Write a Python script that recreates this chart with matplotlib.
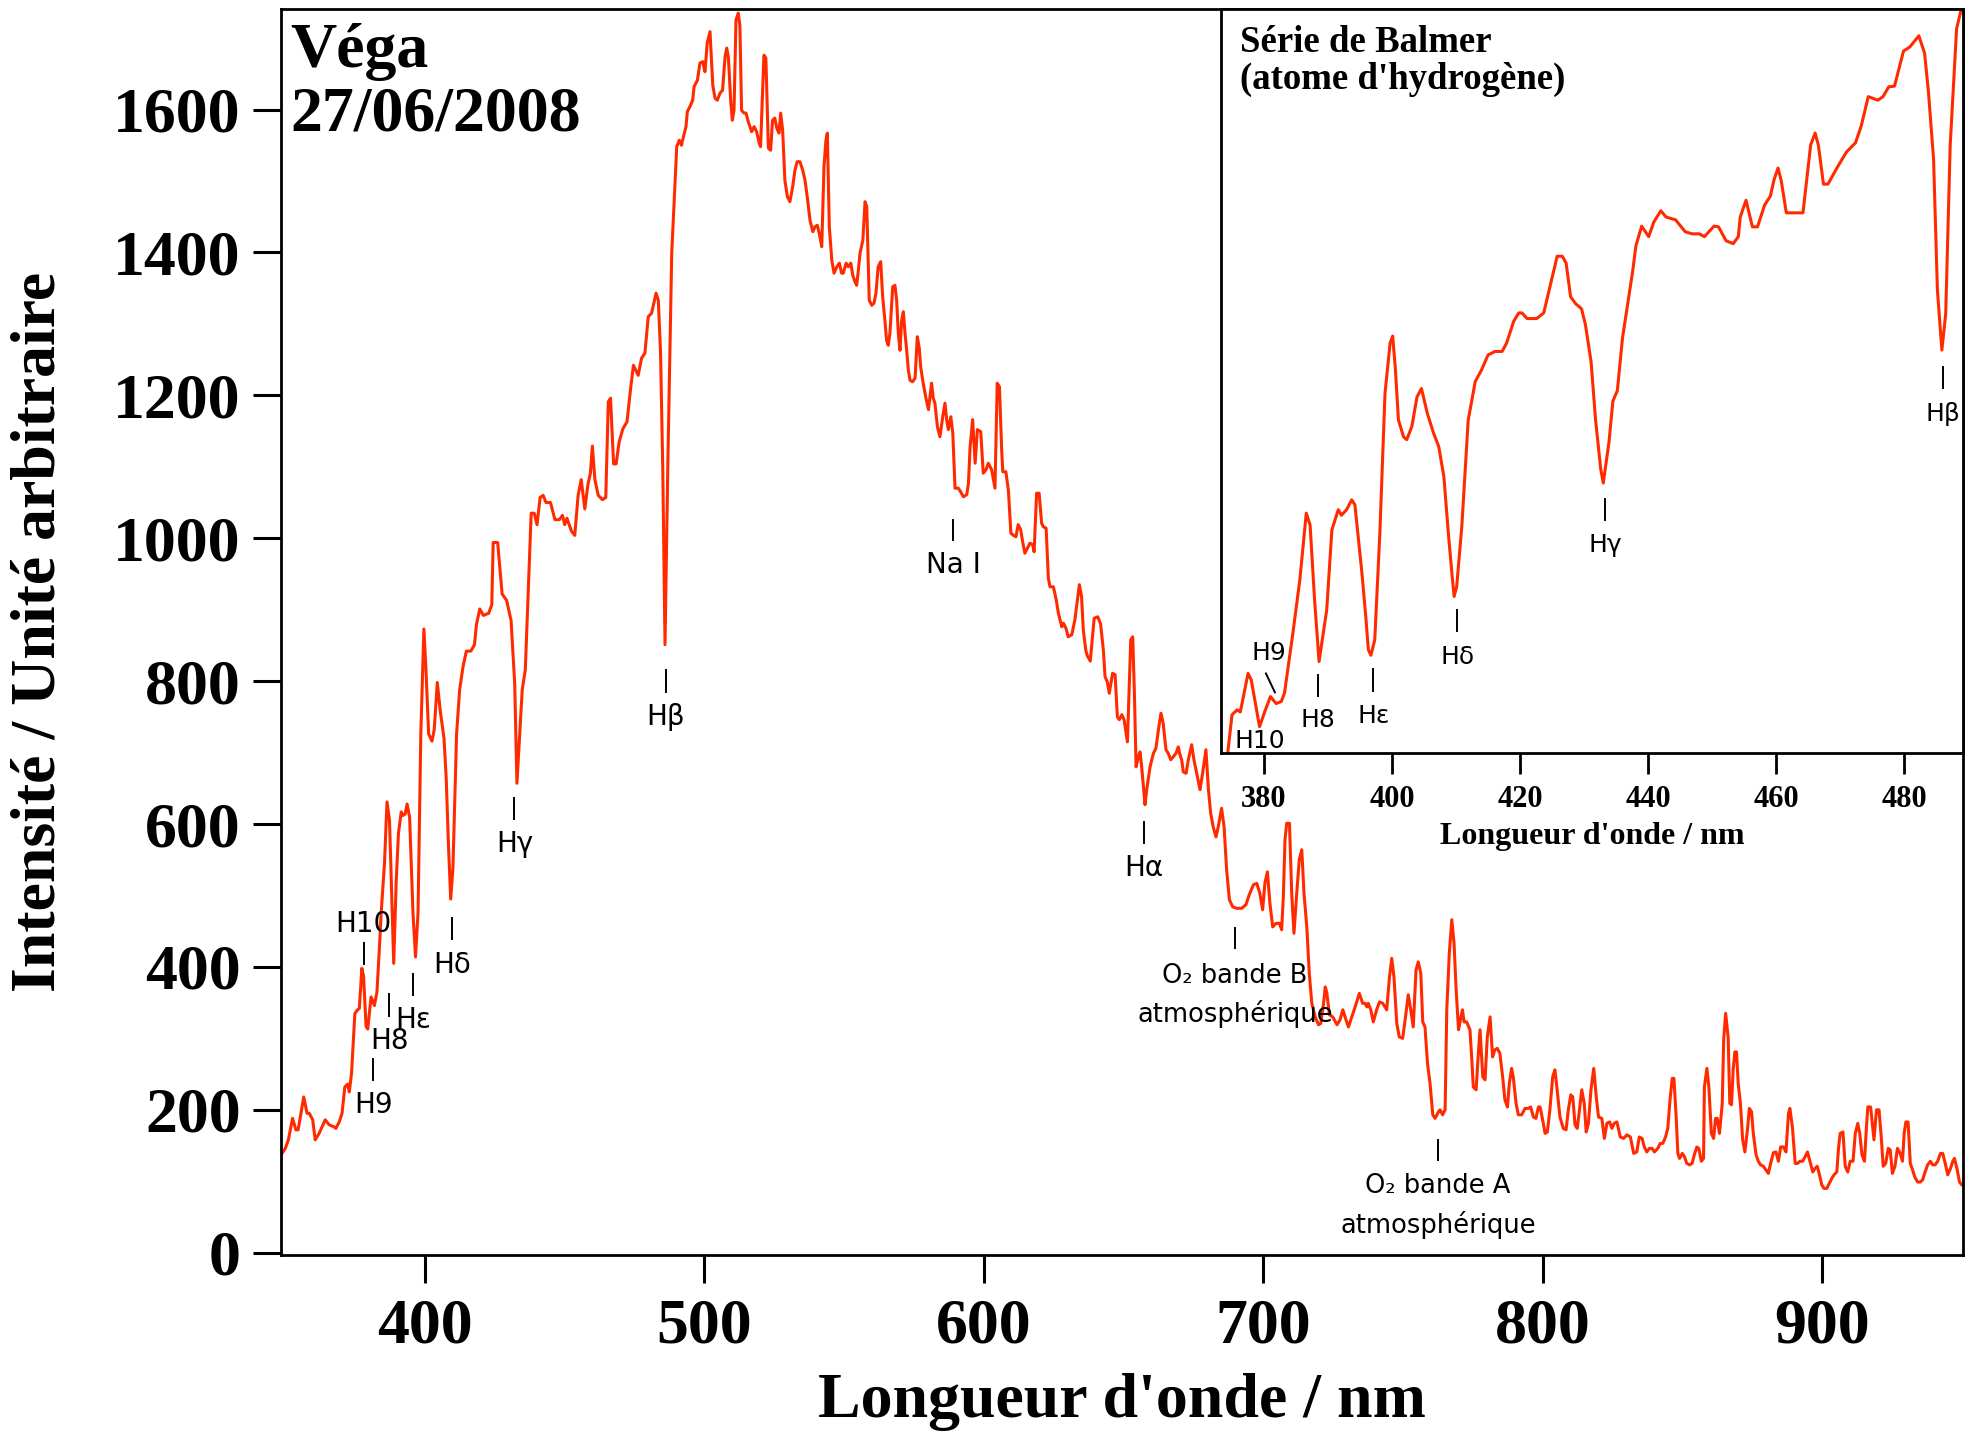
import matplotlib
matplotlib.use("Agg")
import matplotlib.pyplot as plt

# spectre de Vega (longueur d'onde en nm, intensite en unite arbitraire)
main_wl = [
    349.0, 349.9, 351.1, 352.6, 353.8, 354.6, 356.6, 357.8, 358.6, 359.8,
    360.7, 362.1, 364.3, 365.7, 367.5, 368.1, 369.3, 370.3, 371.3, 372.3,
    372.9, 373.7, 374.9, 375.9, 376.5, 377.4, 378.0, 378.9, 379.5, 380.7,
    381.9, 382.8, 383.7, 384.3, 385.5, 386.4, 387.3, 388.8, 389.7, 390.5,
    391.5, 392.1, 392.9, 393.6, 394.5, 395.7, 396.6, 397.5, 398.5, 399.6,
    400.3, 401.3, 402.5, 403.3, 404.4, 405.5, 406.8, 407.6, 408.4, 409.2,
    410.0, 411.3, 412.4, 413.6, 414.8, 416.4, 417.7, 418.4, 419.6, 420.9,
    422.8, 423.9, 424.4, 426.0, 427.6, 429.2, 430.8, 432.1, 432.9, 434.8,
    435.9, 438.0, 439.1, 440.1, 441.2, 442.3, 443.3, 444.9, 446.5, 448.1,
    449.2, 450.0, 450.8, 452.4, 453.6, 454.8, 455.9, 457.2, 458.3, 459.2,
    459.9, 460.8, 462.0, 463.5, 464.7, 465.6, 466.4, 467.5, 468.4, 469.5,
    470.8, 472.3, 473.6, 474.6, 476.3, 477.5, 478.7, 479.9, 481.1, 482.7,
    483.5, 484.3, 485.1, 485.9, 486.9, 488.3, 489.1, 490.1, 491.0, 491.8,
    492.5, 493.4, 493.9, 494.8, 495.8, 496.3, 497.5, 498.4, 499.4, 500.2,
    501.0, 502.0, 503.0, 503.8, 504.6, 505.6, 506.5, 507.4, 508.0, 508.6,
    509.4, 510.0, 510.6, 511.3, 512.1, 512.7, 513.3, 514.2, 514.9, 515.7,
    516.9, 517.8, 518.7, 519.6, 520.1, 520.7, 521.3, 522.0, 522.9, 523.7,
    524.4, 525.2, 525.9, 526.7, 527.3, 528.0, 528.8, 529.7, 530.6, 531.6,
    532.4, 533.2, 534.2, 535.2, 536.0, 536.8, 537.8, 538.8, 539.6, 540.4,
    541.1, 542.0, 542.8, 543.5, 544.0, 544.7, 545.6, 546.4, 547.4, 548.3,
    549.1, 549.7, 550.7, 551.5, 552.4, 553.1, 553.9, 554.5, 555.1, 555.7,
    556.7, 557.5, 558.1, 559.0, 559.9, 560.7, 561.4, 562.2, 563.1, 563.8,
    564.6, 565.2, 565.8, 566.4, 567.4, 568.2, 568.8, 569.4, 570.0, 570.6,
    571.2, 571.8, 572.4, 573.0, 573.6, 574.5, 575.4, 576.2, 576.9, 577.4,
    578.3, 579.3, 580.2, 581.3, 581.9, 582.5, 583.4, 584.3, 585.3, 586.1,
    586.7, 587.3, 588.2, 588.9, 589.7, 590.9, 591.7, 592.7, 593.9, 594.5,
    595.1, 596.0, 596.9, 597.7, 598.9, 599.8, 600.8, 601.6, 602.8, 604.0,
    604.8, 605.6, 606.4, 606.8, 607.9, 608.8, 609.7, 610.6, 611.5, 612.3,
    613.2, 613.9, 614.7, 615.6, 616.5, 617.5, 618.0, 618.9, 619.8, 620.7,
    621.3, 622.3, 623.1, 623.7, 624.9, 625.9, 626.7, 627.9, 628.5, 629.4,
    630.2, 631.5, 632.6, 633.5, 634.2, 635.0, 635.6, 636.5, 637.0, 638.1,
    639.5, 640.8, 641.8, 642.8, 643.4, 644.2, 644.9, 646.1, 647.0, 647.8,
    648.5, 649.4, 650.2, 651.4, 652.6, 653.3, 653.9, 654.5, 655.3, 655.9,
    656.5, 657.7, 658.3, 659.5, 660.7, 661.6, 662.5, 663.4, 664.2, 665.2,
    666.0, 666.9, 667.8, 668.8, 669.6, 670.2, 670.8, 671.4, 672.4, 673.2,
    674.4, 675.2, 676.2, 677.4, 678.3, 679.5, 680.4, 681.2, 682.1, 683.1,
    683.9, 685.1, 686.0, 686.9, 687.9, 689.1, 690.5, 692.3, 693.8, 695.0,
    696.5, 697.7, 698.8, 699.8, 700.6, 701.5, 702.4, 703.4, 704.6, 705.8,
    706.6, 707.2, 707.8, 708.4, 709.4, 710.2, 711.0, 712.0, 712.9, 713.8,
    714.6, 715.6, 716.5, 717.4, 718.6, 719.8, 720.6, 721.6, 722.2, 722.8,
    723.7, 724.9, 726.4, 727.5, 728.5, 729.3, 730.5, 731.7, 732.9, 734.4,
    735.6, 736.5, 737.1, 737.6, 738.5, 739.4, 740.6, 741.6, 742.8, 744.2,
    745.2, 746.0, 746.8, 747.8, 748.7, 749.9, 750.8, 751.9, 752.8, 753.7,
    754.7, 755.5, 756.4, 757.1, 757.9, 758.8, 759.7, 760.7, 761.5, 762.7,
    763.3, 764.2, 765.1, 765.7, 766.6, 767.5, 768.3, 769.0, 769.9, 770.7,
    771.3, 771.9, 772.8, 774.0, 774.6, 775.2, 776.2, 777.0, 777.6, 778.6,
    779.4, 780.2, 781.2, 782.1, 782.9, 783.8, 784.7, 785.7, 786.5, 787.4,
    788.1, 788.9, 789.5, 790.5, 791.3, 792.5, 793.7, 794.9, 795.7, 796.7,
    797.6, 798.5, 799.1, 800.0, 800.9, 801.7, 802.6, 803.6, 804.4, 805.2,
    806.2, 807.4, 808.4, 809.2, 810.1, 810.8, 811.6, 812.4, 813.2, 814.0,
    814.9, 815.6, 816.4, 817.3, 818.3, 819.2, 820.0, 821.2, 822.1, 823.0,
    824.0, 824.8, 825.6, 826.6, 827.8, 829.0, 830.2, 831.4, 832.6, 833.7,
    834.6, 835.6, 836.4, 837.3, 838.2, 839.2, 840.0, 841.2, 842.1, 843.0,
    844.0, 844.8, 845.6, 846.4, 847.0, 847.8, 848.4, 849.0, 850.0, 850.8,
    851.6, 852.6, 853.5, 854.3, 855.2, 855.9, 856.8, 857.6, 857.9, 858.8,
    859.5, 860.4, 861.2, 861.9, 862.5, 863.3, 864.3, 864.8, 865.5, 866.4,
    867.0, 867.6, 868.2, 868.8, 869.4, 870.0, 870.8, 871.6, 872.4, 873.3,
    874.0, 874.8, 875.4, 876.4, 877.2, 878.0, 879.0, 879.9, 880.8, 881.6,
    882.6, 883.5, 884.4, 885.2, 886.2, 887.1, 888.0, 888.5, 889.4, 890.4,
    891.2, 892.1, 893.1, 893.9, 894.8, 895.7, 896.7, 897.5, 898.3, 899.1,
    899.9, 900.7, 901.7, 902.6, 903.5, 904.3, 905.3, 905.9, 906.5, 907.5,
    908.3, 909.2, 910.1, 911.1, 911.9, 912.8, 913.5, 914.3, 915.2, 915.9,
    916.4, 917.4, 918.0, 918.6, 919.5, 920.4, 921.2, 921.9, 922.8, 923.7,
    924.4, 925.2, 926.1, 927.0, 928.0, 928.8, 929.4, 930.0, 930.8, 931.6,
    932.4, 933.2, 934.2, 935.2, 936.0, 936.9, 937.8, 938.8, 939.6, 940.5,
    941.4, 942.4, 943.2, 944.1, 945.0, 946.0, 946.8, 947.4, 948.4, 949.2,
    950.0, 951.0,
]
main_int = [
    140, 145, 158, 188, 172, 172, 218, 195, 195, 186,
    158, 167, 186, 179, 176, 174, 183, 195, 232, 236,
    225, 251, 335, 340, 342, 398, 387, 317, 313, 358,
    346, 365, 428, 475, 545, 631, 605, 405, 521, 587,
    617, 612, 614, 628, 609, 475, 414, 475, 726, 873,
    820, 726, 716, 732, 798, 757, 720, 663, 570, 495,
    539, 726, 788, 820, 842, 842, 851, 879, 901, 892,
    895, 907, 994, 994, 922, 913, 885, 797, 657, 788,
    816, 1035, 1035, 1019, 1057, 1060, 1050, 1050, 1026, 1026,
    1032, 1019, 1028, 1010, 1004, 1060, 1082, 1041, 1075, 1091,
    1129, 1082, 1060, 1054, 1057, 1191, 1196, 1104, 1104, 1135,
    1153, 1163, 1210, 1242, 1228, 1252, 1259, 1310, 1315, 1343,
    1333, 1260, 1097, 851, 1100, 1399, 1464, 1548, 1557, 1550,
    1562, 1576, 1597, 1604, 1613, 1632, 1641, 1665, 1667, 1653,
    1693, 1709, 1634, 1616, 1613, 1623, 1627, 1674, 1686, 1672,
    1613, 1585, 1599, 1725, 1735, 1718, 1599, 1595, 1595, 1583,
    1569, 1576, 1569, 1553, 1548, 1613, 1676, 1672, 1546, 1543,
    1585, 1588, 1574, 1567, 1595, 1571, 1501, 1478, 1471, 1492,
    1515, 1527, 1527, 1515, 1501, 1478, 1445, 1429, 1436, 1438,
    1427, 1408, 1520, 1557, 1567, 1436, 1389, 1371, 1380, 1385,
    1371, 1371, 1385, 1380, 1385, 1368, 1359, 1354, 1375, 1399,
    1417, 1471, 1464, 1333, 1326, 1329, 1343, 1380, 1387, 1338,
    1305, 1277, 1270, 1287, 1352, 1354, 1333, 1287, 1263, 1305,
    1317, 1287, 1263, 1235, 1221, 1219, 1224, 1282, 1266, 1240,
    1217, 1196, 1180, 1217, 1196, 1189, 1156, 1142, 1170, 1189,
    1166, 1152, 1170, 1147, 1070, 1070, 1065, 1058, 1061, 1077,
    1128, 1166, 1105, 1152, 1149, 1091, 1096, 1105, 1096, 1070,
    1217, 1212, 1123, 1093, 1093, 1067, 1007, 1004, 1002, 1019,
    1012, 995, 979, 986, 993, 991, 981, 1063, 1063, 1021,
    1016, 1014, 944, 932, 932, 914, 895, 876, 881, 874,
    862, 865, 886, 914, 935, 918, 872, 843, 836, 828,
    888, 890, 880, 843, 806, 799, 783, 811, 809, 750,
    746, 753, 746, 715, 858, 862, 783, 680, 694, 701,
    680, 627, 648, 680, 699, 706, 732, 755, 741, 704,
    699, 690, 694, 699, 708, 697, 690, 673, 671, 690,
    711, 690, 671, 648, 671, 704, 648, 615, 596, 582,
    596, 622, 596, 536, 494, 484, 482, 482, 487, 501,
    515, 517, 503, 480, 517, 533, 489, 456, 461, 461,
    452, 498, 578, 601, 601, 503, 447, 503, 550, 564,
    503, 456, 390, 349, 330, 319, 321, 349, 372, 363,
    333, 330, 319, 326, 340, 330, 316, 330, 344, 363,
    349, 349, 344, 349, 340, 323, 340, 351, 349, 340,
    386, 412, 386, 321, 302, 300, 326, 361, 340, 316,
    396, 407, 391, 323, 316, 265, 237, 193, 188, 197,
    200, 193, 200, 340, 419, 466, 433, 372, 312, 328,
    340, 323, 323, 312, 274, 232, 228, 279, 312, 246,
    242, 302, 330, 274, 284, 286, 279, 246, 214, 204,
    237, 258, 246, 209, 193, 193, 202, 202, 204, 190,
    188, 204, 204, 186, 167, 169, 200, 246, 256, 228,
    190, 174, 172, 200, 221, 218, 179, 174, 200, 228,
    209, 169, 181, 228, 258, 218, 190, 188, 160, 181,
    183, 174, 181, 183, 162, 160, 165, 162, 139, 141,
    162, 160, 148, 141, 146, 146, 141, 146, 153, 153,
    162, 174, 214, 244, 244, 190, 139, 132, 139, 134,
    125, 123, 125, 137, 148, 146, 128, 132, 232, 258,
    232, 167, 160, 188, 188, 167, 209, 298, 335, 302,
    209, 207, 256, 281, 281, 237, 209, 158, 141, 172,
    202, 197, 167, 137, 128, 123, 121, 116, 111, 125,
    140, 141, 128, 148, 148, 141, 195, 202, 176, 125,
    125, 128, 128, 134, 141, 128, 113, 118, 121, 109,
    95, 90, 90, 97, 104, 109, 113, 146, 167, 169,
    121, 113, 128, 128, 167, 181, 167, 137, 128, 176,
    204, 204, 181, 158, 200, 200, 162, 121, 125, 146,
    144, 111, 121, 146, 139, 128, 167, 183, 183, 125,
    116, 106, 99, 99, 102, 113, 123, 128, 123, 123,
    128, 139, 139, 125, 109, 118, 128, 132, 116, 99,
    95, 95,
]

# encart : serie de Balmer
balmer_wl = [
    374.0, 375.0, 375.8, 376.3, 377.5, 378.0, 379.3, 380.1, 381.0, 381.9,
    382.7, 383.2, 384.5, 385.6, 386.6, 387.2, 387.9, 388.6, 389.8, 390.6,
    391.6, 392.1, 392.9, 393.7, 394.2, 395.3, 395.9, 396.3, 396.7, 397.3,
    398.1, 398.9, 399.7, 400.1, 400.5, 401.0, 401.8, 402.3, 403.1, 403.9,
    404.6, 405.5, 406.5, 407.3, 408.1, 408.8, 409.4, 409.7, 410.1, 410.9,
    411.9, 413.0, 414.0, 415.0, 416.1, 417.2, 417.9, 419.0, 419.8, 420.3,
    421.1, 422.6, 423.7, 424.3, 425.8, 426.6, 427.2, 427.9, 428.7, 429.6,
    430.2, 431.1, 431.8, 432.6, 433.0, 433.9, 434.5, 435.2, 436.0, 436.7,
    437.6, 438.1, 439.0, 440.1, 440.9, 442.0, 442.8, 444.3, 445.8, 446.9,
    448.0, 448.8, 450.3, 451.0, 452.2, 453.3, 454.1, 454.4, 455.3, 456.3,
    457.1, 458.2, 459.1, 459.7, 460.3, 460.8, 461.6, 463.1, 464.2, 465.4,
    466.1, 466.6, 467.4, 468.1, 469.5, 471.0, 472.4, 473.3, 474.4, 475.9,
    476.7, 477.6, 478.5, 479.9, 480.9, 482.3, 483.2, 483.8, 484.6, 485.2,
    485.9, 486.5, 487.2, 488.2, 488.9, 489.6,
]
balmer_int = [
    250, 332, 339, 336, 391, 382, 315, 336, 358, 348,
    351, 363, 448, 525, 620, 603, 496, 408, 482, 596,
    625, 617, 625, 639, 632, 534, 472, 425, 417, 439,
    592, 791, 863, 873, 829, 753, 729, 725, 744, 786,
    798, 763, 734, 715, 672, 591, 529, 501, 515, 601,
    753, 808, 825, 846, 851, 851, 863, 894, 906, 906,
    898, 898, 906, 929, 987, 987, 977, 929, 919, 912,
    890, 836, 753, 683, 663, 722, 780, 795, 870, 912,
    966, 1002, 1030, 1015, 1036, 1052, 1043, 1039, 1022, 1019,
    1019, 1015, 1030, 1029, 1009, 1005, 1015, 1043, 1067, 1029,
    1029, 1060, 1073, 1097, 1113, 1095, 1049, 1049, 1049, 1146,
    1163, 1146, 1090, 1090, 1113, 1136, 1149, 1173, 1215, 1210,
    1215, 1229, 1230, 1280, 1286, 1302, 1277, 1222, 1126, 939,
    853, 905, 1146, 1312, 1339, 1400,
]

# reperes des raies : texte, lambda, bas du trait, haut du trait, ligne de base du texte
main_marks = [
    ("H10", 378.1, 404, 434, 449),
    ("H9", 381.5, 242, 271, 195),
    ("H8", 387.2, 331, 362, 285),
    ("Hε", 395.8, 361, 390, 314),
    ("Hδ", 409.6, 439, 468, 392),
    ("Hγ", 432.0, 607, 636, 561),
    ("Hβ", 486.1, 785, 815, 739),
    ("Na I", 589.1, 997, 1026, 951),
    ("Hα", 657.3, 574, 603, 527),
]
o2_marks = [
    ("O₂ bande B", "atmosphérique", 689.9, 426, 454, 378, 323),
    ("O₂ bande A", "atmosphérique", 762.5, 130, 158, 83, 28),
]
balmer_marks = [
    ("Hγ", 433.3, 610, 640, 565),
    ("Hδ", 410.2, 451, 481, 405),
    ("Hε", 397.1, 366, 397, 320),
    ("H8", 388.4, 359, 389, 314),
    ("Hβ", 486.1, 799, 829, 751),
]

RED = "#ff2a00"
plt.rcParams["font.family"] = "Liberation Serif"
plt.rcParams["font.weight"] = "bold"
plt.rcParams["axes.labelweight"] = "bold"
plt.rcParams["axes.linewidth"] = 2.0

W, H = 1966, 1433
fig = plt.figure(figsize=(W / 100, H / 100), dpi=100)
ax = fig.add_axes([281 / W, 1 - 1255 / H, (1963 - 281) / W, (1255 - 9) / H])
ax.plot(main_wl, main_int, color=RED, lw=2.2)
ax.set_xlim(348.46, 950.46)
ax.set_ylim(-3.2, 1740.7)
ax.set_xticks(range(400, 901, 100))
ax.set_yticks(range(0, 1601, 200))
ax.tick_params(direction="out", length=20, width=2.2, labelsize=46)
ax.tick_params(axis="x", pad=11)
ax.tick_params(axis="y", pad=9)

fig.text(1122 / W, 1 - 1417 / H, "Longueur d'onde / nm", ha="center",
         va="baseline", fontsize=46)
fig.text(40 / W, 1 - 632 / H, "Intensité / Unité arbitraire", rotation=90,
         ha="center", va="center", fontsize=46)
ax.text(0.0054, 0.9535, "Véga", transform=ax.transAxes, fontsize=46,
        va="baseline")
ax.text(0.0054, 0.9021, "27/06/2008", transform=ax.transAxes, fontsize=46,
        va="baseline")

sans = dict(family="DejaVu Sans", weight="normal", ha="center", va="baseline")
for txt, wl, lo, hi, base in main_marks:
    ax.plot([wl, wl], [lo, hi], color="black", lw=1.4)
    ax.text(wl, base, txt, fontsize=20, **sans)
for l1, l2, wl, lo, hi, b1, b2 in o2_marks:
    ax.plot([wl, wl], [lo, hi], color="black", lw=1.4)
    ax.text(wl, b1, l1, fontsize=18.5, **sans)
    ax.text(wl, b2, l2, fontsize=18.5, **sans)

# encart
axin = fig.add_axes([1221 / W, 1 - 752.7 / H, (1963 - 1221) / W, (752.7 - 9) / H])
axin.set_facecolor("white")
axin.plot(balmer_wl, balmer_int, color=RED, lw=2.2)
axin.set_xlim(373.28, 489.2)
axin.set_ylim(277.8, 1340.2)
axin.set_xticks(range(380, 481, 20))
axin.set_yticks([])
axin.tick_params(direction="out", length=15, width=2.0, labelsize=22, pad=8)
axin.set_xlabel("Longueur d'onde / nm", fontsize=23, weight="bold", labelpad=6)
axin.text(0.0256, 0.9427, "Série de Balmer", transform=axin.transAxes,
          fontsize=26.5, va="baseline")
axin.text(0.0256, 0.8924, "(atome d'hydrogène)", transform=axin.transAxes,
          fontsize=26.5, va="baseline")
for txt, wl, lo, hi, base in balmer_marks:
    axin.plot([wl, wl], [lo, hi], color="black", lw=1.4)
    axin.text(wl, base, txt, fontsize=18, **sans)
axin.text(380.8, 410, "H9", fontsize=18, **sans)
axin.plot([380.3, 381.7], [391, 364], color="black", lw=1.4)
axin.text(379.4, 284, "H10", fontsize=18, **sans)

fig.savefig("out.png", dpi=100)
